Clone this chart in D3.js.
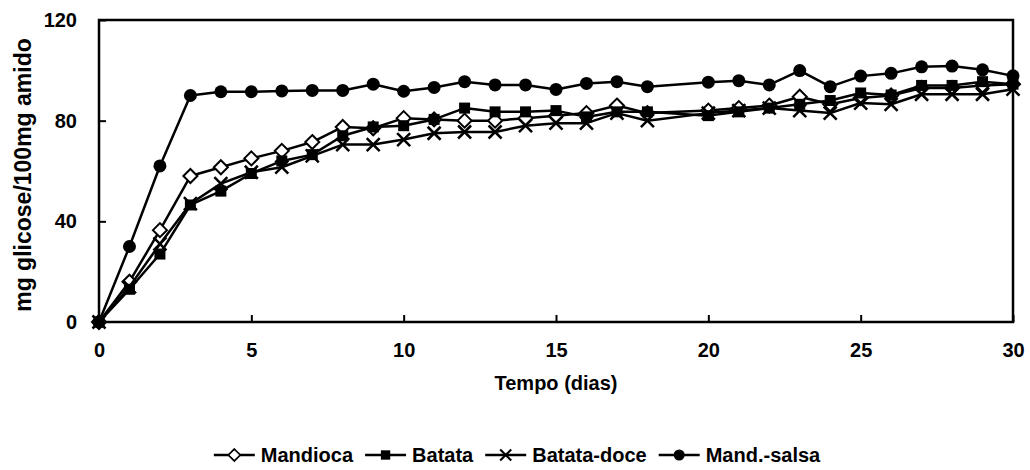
<!DOCTYPE html>
<html>
<head>
<meta charset="utf-8">
<script src="https://cdn.jsdelivr.net/npm/d3@7"></script>
<style>
  body { margin: 0; background: #fff; }
  text { font-family: "Liberation Sans", Arial, sans-serif; font-weight: bold; fill: #000; }
</style>
</head>
<body>
<div id="chart"></div>
<script>
const days = [0, 1, 2, 3, 4, 5, 6, 7, 8, 9, 10, 11, 12, 13, 14, 15, 16, 17, 18, 20, 21, 22, 23, 24, 25, 26, 27, 28, 29, 30]
const mandioca = [0, 16, 36.5, 58, 61.5, 65, 68, 71.5, 77.5, 77, 81, 80.5, 80, 80, 81, 82, 83, 86, 83, 84, 85, 86, 89.5, 86.5, 89, 90, 93, 93, 94, 94.5]
const batata = [0, 13, 27, 46.5, 52, 59, 64, 66.5, 74, 77.5, 78, 80.5, 85, 83.5, 83.5, 84, 81.5, 83.5, 83.5, 82, 83.5, 85, 86.5, 88, 91, 90.2, 94, 94, 95.5, 94.5]
const batataDoce = [0, 14, 31, 47, 55, 59.5, 61.5, 66, 70.5, 70.5, 72.5, 75, 75.5, 75.5, 78, 79, 79, 83, 80, 83, 84, 85, 84, 83, 87, 86.5, 90.5, 90.5, 90.5, 92.5]
const mandSalsa = [0, 30, 62, 90, 91.5, 91.5, 91.8, 92, 92, 94.5, 91.7, 93.2, 95.5, 94.2, 94.2, 92.4, 94.8, 95.5, 93.5, 95.3, 95.9, 94.2, 99.9, 93.5, 97.7, 98.8, 101.4, 101.7, 100.2, 97.8]
const seriesNames = ["Mandioca", "Batata", "Batata-doce", "Mand.-salsa"]
const seriesMarkers = ["diamond", "square", "cross", "circle"]
const xTicks = [0, 5, 10, 15, 20, 25, 30]
const yTicks = [0, 40, 80, 120]

const width = 1030
const height = 470
const margin = { top: 20, right: 17, bottom: 148, left: 99 }

const svg = d3.select("#chart")
  .append("svg")
  .attr("width", width)
  .attr("height", height)

const x = d3.scaleLinear().domain([0, 30]).range([margin.left, width - margin.right])
const y = d3.scaleLinear().domain([0, 120]).range([height - margin.bottom, margin.top])

// axes with inward ticks
const xAxis = svg.append("g")
  .attr("transform", `translate(0,${y(0)})`)
  .call(d3.axisBottom(x).tickValues(xTicks).tickSizeInner(-7).tickSizeOuter(0).tickPadding(21))
const yAxis = svg.append("g")
  .attr("transform", `translate(${x(0)},0)`)
  .call(d3.axisLeft(y).tickValues(yTicks).tickSizeInner(-7).tickSizeOuter(0).tickPadding(22))

for (const ax of [xAxis, yAxis]) {
  ax.select(".domain").remove()
  ax.selectAll(".tick line").attr("stroke", "#000").attr("stroke-width", 2)
  ax.selectAll(".tick text").attr("font-size", "20px").attr("font-family", null)
}

// plot frame
svg.append("rect")
  .attr("x", x(0))
  .attr("y", y(120))
  .attr("width", x(30) - x(0))
  .attr("height", y(0) - y(120))
  .attr("fill", "none")
  .attr("stroke", "#000")
  .attr("stroke-width", 2.5)

// axis titles
svg.append("text")
  .attr("x", (x(0) + x(30)) / 2)
  .attr("y", 390)
  .attr("text-anchor", "middle")
  .attr("font-size", "20px")
  .text("Tempo (dias)")

svg.append("text")
  .attr("transform", `translate(31,${(y(0) + y(120)) / 2 + 4}) rotate(-90)`)
  .attr("text-anchor", "middle")
  .attr("font-size", "23px")
  .text("mg glicose/100mg amido")

function drawMarker(g, type) {
  if (type === "diamond") {
    g.append("path").attr("d", "M0,-7L7,0L0,7L-7,0Z")
      .attr("fill", "#fff").attr("stroke", "#000").attr("stroke-width", 2)
  } else if (type === "square") {
    g.append("rect").attr("x", -5.5).attr("y", -5.5).attr("width", 11).attr("height", 11)
      .attr("fill", "#000")
  } else if (type === "cross") {
    g.append("path").attr("d", "M-6.5,-6.5L6.5,6.5M-6.5,6.5L6.5,-6.5")
      .attr("stroke", "#000").attr("stroke-width", 2.5).attr("fill", "none")
  } else {
    g.append("circle").attr("r", 6.5).attr("fill", "#000")
  }
}

const seriesValues = [mandioca, batata, batataDoce, mandSalsa]
const line = d3.line().x(d => x(d[0])).y(d => y(d[1]))

seriesValues.forEach((vals, i) => {
  const pts = days.map((d, j) => [d, vals[j]])
  const sg = svg.append("g").attr("class", "series")
  sg.append("path")
    .datum(pts)
    .attr("fill", "none")
    .attr("stroke", "#000")
    .attr("stroke-width", 2.5)
    .attr("stroke-linejoin", "round")
    .attr("d", line)
  sg.selectAll("g.pt")
    .data(pts)
    .enter()
    .append("g")
    .attr("class", "pt")
    .attr("transform", d => `translate(${x(d[0])},${y(d[1])})`)
    .each(function () { drawMarker(d3.select(this), seriesMarkers[i]) })
})

// legend
const legend = svg.append("g")
let lx = 0
seriesNames.forEach((name, i) => {
  const item = legend.append("g").attr("transform", `translate(${lx},0)`)
  item.append("line").attr("x1", 0).attr("x2", 41).attr("y1", 0).attr("y2", 0)
    .attr("stroke", "#000").attr("stroke-width", 2.5)
  const m = item.append("g")
  drawMarker(m, seriesMarkers[i])
  m.attr("transform", "translate(20.5,0) scale(0.85)")
  const t = item.append("text").attr("x", 47).attr("y", 7).attr("font-size", "20px").text(name)
  lx += 47 + t.node().getComputedTextLength() + 12
})
lx -= 12
legend.attr("transform", `translate(${(width - lx) / 2 + 2},455)`)
</script>
</body>
</html>
